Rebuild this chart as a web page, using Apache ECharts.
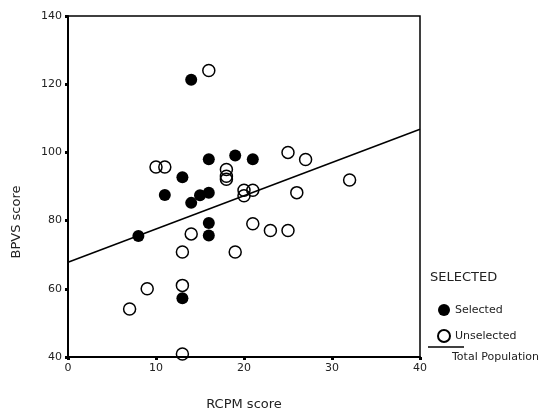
<!DOCTYPE html>
<html>
<head>
<meta charset="utf-8">
<script src="https://cdn.jsdelivr.net/npm/echarts@6/dist/echarts.min.js"></script>
<style>
  html, body { margin: 0; padding: 0; background: #fff; }
  #chart { width: 557px; height: 416px; }
</style>
</head>
<body>
<div id="chart"></div>
<script>
  // RCPM score (x) vs BPVS score (y)
  var selectedPts = [
    [14, 121.3], [16, 98], [19, 99.1], [21, 98], [13, 92.7],
    [11, 87.5], [14, 85.2], [15, 87.4], [16, 88.2], [16, 79.3],
    [16, 75.6], [8, 75.5], [13, 57.2]
  ];
  var unselectedPts = [
    [16, 124], [10, 95.7], [11, 95.7], [18, 95], [18, 93], [18, 92.1],
    [20, 88.9], [21, 88.9], [20, 87.3], [25, 100], [27, 97.9], [32, 91.9],
    [26, 88.2], [21, 79.1], [23, 77.1], [25, 77.1], [19, 70.8], [14, 76.1],
    [13, 70.8], [9, 60], [13, 61], [7, 54.1], [13, 40.9]
  ];
  // fit line for the total population (end points)
  var fitLine = [[0, 67.8], [40, 106.8]];

  var xTicks = { min: 0, max: 40, interval: 10 };
  var yTicks = { min: 40, max: 140, interval: 20 };

  var font = 'DejaVu Sans';
  var myChart = echarts.init(document.getElementById('chart'));
  var option = {
    animation: false,
    textStyle: { fontFamily: font },
    grid: {
      left: 68, right: 137, top: 16, bottom: 52,
      show: true, borderColor: '#000', borderWidth: 1.5, backgroundColor: 'transparent'
    },
    xAxis: {
      type: 'value',
      min: xTicks.min, max: xTicks.max, interval: xTicks.interval,
      name: 'RCPM score',
      nameLocation: 'middle',
      nameGap: 41,
      nameTextStyle: { fontSize: 13, color: '#222', fontFamily: font },
      axisLine: { lineStyle: { color: '#000', width: 2 } },
      axisTick: { length: 3, lineStyle: { color: '#000', width: 3 } },
      axisLabel: { fontSize: 11, color: '#222', margin: 6, fontFamily: font },
      splitLine: { show: false }
    },
    yAxis: {
      type: 'value',
      min: yTicks.min, max: yTicks.max, interval: yTicks.interval,
      axisLine: { lineStyle: { color: '#000', width: 2 } },
      axisTick: { length: 3, lineStyle: { color: '#000', width: 3 } },
      axisLabel: { fontSize: 11, color: '#222', margin: 6, fontFamily: font },
      splitLine: { show: false }
    },
    legend: {
      orient: 'vertical',
      left: 432, top: 299,
      itemWidth: 12, itemHeight: 12, itemGap: 13,
      data: ['Selected', 'Unselected'],
      textStyle: { fontSize: 11, color: '#222', fontFamily: font, padding: [4, 0, 0, 0] }
    },
    graphic: [
      { type: 'text', x: 17, y: 222, rotation: Math.PI / 2,
        style: { text: 'BPVS score', fontSize: 13, fill: '#222', fontFamily: font,
                 align: 'center', verticalAlign: 'middle' } },
      { type: 'text', left: 430, top: 271,
        style: { text: 'SELECTED', fontSize: 13, fill: '#222', fontFamily: font } },
      { type: 'line', shape: { x1: 428, y1: 347, x2: 464, y2: 347 },
        style: { stroke: '#000', lineWidth: 1.5 } },
      { type: 'text', left: 452, top: 352,
        style: { text: 'Total Population', fontSize: 11, fill: '#222', fontFamily: font } }
    ],
    series: [
      {
        name: 'Total Population',
        type: 'line',
        data: fitLine,
        showSymbol: false,
        silent: true,
        lineStyle: { color: '#000', width: 1.5 }
      },
      {
        name: 'Selected',
        type: 'scatter',
        data: selectedPts,
        symbol: 'circle',
        symbolSize: 12,
        itemStyle: { color: '#000', opacity: 1 }
      },
      {
        name: 'Unselected',
        type: 'scatter',
        data: unselectedPts,
        symbol: 'circle',
        symbolSize: 12,
        itemStyle: { color: 'rgba(255,255,255,0)', borderColor: '#000', borderWidth: 1.5, opacity: 1 }
      }
    ]
  };
  myChart.setOption(option);
</script>
</body>
</html>
